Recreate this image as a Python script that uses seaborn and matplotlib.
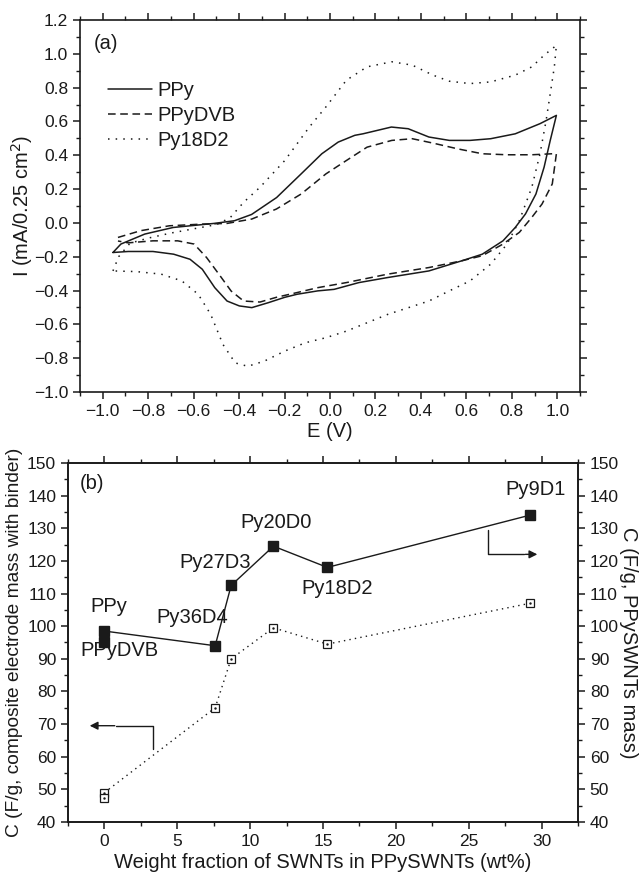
import numpy as np
import pandas as pd
import matplotlib.pyplot as plt
import seaborn as sns
from matplotlib.ticker import MultipleLocator, FuncFormatter

# ---- (a) cyclic voltammograms (closed loops) ----
ppy_E = [-0.955, -0.92, -0.815, -0.69, -0.51, -0.42, -0.345, -0.235, -0.127, -0.036,
         0.036, 0.109, 0.145, 0.27, 0.344, 0.435, 0.525, 0.616, 0.707, 0.815, 0.924, 0.996,
         0.969, 0.942, 0.906, 0.86, 0.815, 0.761, 0.67, 0.58, 0.435, 0.254, 0.127, 0.018,
         -0.054, -0.145, -0.199, -0.272, -0.344, -0.399, -0.453, -0.507, -0.562, -0.616,
         -0.688, -0.779, -0.888, -0.955]
ppy_I = [-0.175, -0.125, -0.066, -0.027, -0.003, 0.013, 0.05, 0.15, 0.29, 0.409,
         0.478, 0.518, 0.527, 0.567, 0.557, 0.508, 0.488, 0.488, 0.498, 0.527, 0.587, 0.636,
         0.488, 0.33, 0.171, 0.053, -0.027, -0.106, -0.185, -0.224, -0.284, -0.323, -0.353, -0.393,
         -0.402, -0.422, -0.44, -0.472, -0.501, -0.491, -0.462, -0.383, -0.274, -0.215,
         -0.185, -0.169, -0.169, -0.175]

dvb_E = [-0.933, -0.833, -0.707, -0.562, -0.453, -0.344, -0.236, -0.127, -0.018, 0.072,
         0.163, 0.272, 0.362, 0.453, 0.562, 0.67, 0.779, 0.888, 0.978, 0.996,
         0.978, 0.933, 0.888, 0.833, 0.761, 0.67, 0.58, 0.435, 0.254, 0.072, -0.054,
         -0.145, -0.236, -0.308, -0.38, -0.435, -0.489, -0.543, -0.598, -0.67, -0.779,
         -0.888, -0.933]
dvb_I = [-0.086, -0.046, -0.017, -0.007, -0.003, 0.023, 0.082, 0.171, 0.29, 0.369,
         0.448, 0.488, 0.498, 0.472, 0.438, 0.409, 0.403, 0.403, 0.409, 0.409,
         0.231, 0.112, 0.033, -0.056, -0.125, -0.194, -0.224, -0.264, -0.303, -0.353, -0.383,
         -0.412, -0.44, -0.468, -0.462, -0.403, -0.303, -0.205, -0.125, -0.106, -0.106,
         -0.118, -0.107]

d18_E = [-0.955, -0.93, -0.88, -0.8, -0.7, -0.6, -0.5, -0.44, -0.38, -0.308, -0.199,
         -0.091, -0.018, 0.072, 0.163, 0.272, 0.362, 0.453, 0.525, 0.616, 0.707, 0.815,
         0.888, 0.942, 0.996, 0.987, 0.969, 0.951, 0.924, 0.888, 0.833, 0.779, 0.707,
         0.616, 0.525, 0.435, 0.254, 0.072, -0.018, -0.109, -0.199, -0.29, -0.362,
         -0.417, -0.471, -0.525, -0.58, -0.652, -0.743, -0.851, -0.955]
d18_I = [-0.284, -0.2, -0.12, -0.09, -0.06, -0.035, -0.01, 0.03, 0.122, 0.211, 0.369,
         0.567, 0.686, 0.844, 0.923, 0.953, 0.933, 0.874, 0.838, 0.824, 0.834, 0.874,
         0.923, 0.992, 1.05, 0.923, 0.765, 0.607, 0.409, 0.211, 0.013, -0.125, -0.244,
         -0.343, -0.402, -0.462, -0.541, -0.64, -0.679, -0.709, -0.758, -0.818, -0.848,
         -0.828, -0.719, -0.541, -0.422, -0.343, -0.303, -0.288, -0.284]

# ---- (b) capacitance vs SWNT fraction ----
samples = ["PPy", "PPyDVB", "Py36D4", "Py27D3", "Py20D0", "Py18D2", "Py9D1"]
wt_frac = [0.0, 0.0, 7.6, 8.7, 11.6, 15.3, 29.2]
c_ppyswnt = [98.5, 95.0, 94.0, 112.5, 124.5, 118.0, 134.0]     # right axis, filled
c_electrode = [49.0, 47.5, 75.0, 90.0, 99.5, 94.5, 107.0]      # left axis, open
label_x = [0.3, 1.0, 6.0, 7.6, 11.8, 16.0, 29.6]
label_y = [106.0, 92.6, 102.6, 119.5, 131.7, 111.5, 141.8]

sns.set_style("ticks")
plt.rcParams['font.family'] = ['Liberation Sans', 'DejaVu Sans']
ink = "#1a1a1a"
plt.rcParams.update({
    "axes.edgecolor": ink, "axes.linewidth": 1.2,
    "xtick.color": ink, "ytick.color": ink,
    "text.color": ink, "axes.labelcolor": ink,
})

one_dec = FuncFormatter(lambda v, p: f"{v:.1f}".replace("-", "\u2212"))

fig = plt.figure(figsize=(6.39, 8.74), dpi=100)
ax1 = fig.add_axes([0.1252, 0.5515, 0.7825, 0.4256])
ax2 = fig.add_axes([0.1064, 0.0595, 0.7981, 0.4108])

cv = [("PPy", ppy_E, ppy_I, "-"), ("PPyDVB", dvb_E, dvb_I, (0, (5, 3))),
      ("Py18D2", d18_E, d18_I, (0, (1, 4)))]
for name, e, i, ls in cv:
    sns.lineplot(x=e, y=i, sort=False, estimator=None, color=ink, linewidth=1.1,
                 linestyle=ls, label=name, ax=ax1)

ax1.set_xlim(-1.1, 1.1)
ax1.set_ylim(-1.0, 1.2)
ax1.xaxis.set_major_locator(MultipleLocator(0.2))
ax1.xaxis.set_minor_locator(MultipleLocator(0.1))
ax1.yaxis.set_major_locator(MultipleLocator(0.2))
ax1.yaxis.set_minor_locator(MultipleLocator(0.1))
ax1.xaxis.set_major_formatter(one_dec)
ax1.yaxis.set_major_formatter(one_dec)
ax1.tick_params(which="both", top=True, right=True, labelsize=12.5)
ax1.tick_params(which="major", length=5, width=1.1)
ax1.tick_params(which="minor", length=3, width=1.0)
ax1.set_xlabel("E (V)", fontsize=14.5, labelpad=2)
ax1.set_ylabel("I (mA/0.25 cm$^2$)", fontsize=14.5)
ax1.yaxis.set_label_coords(-0.09, 0.5)
ax1.text(-1.04, 1.06, "(a)", fontsize=14.5, ha="left", va="center")
ax1.legend(loc="upper left", bbox_to_anchor=(0.055, 0.835), frameon=False, fontsize=14.5,
           handlelength=2.2, handletextpad=0.3, labelspacing=0.3, borderpad=0,
           borderaxespad=0)

# bottom panel
ax3 = ax2.twinx()
df = pd.DataFrame({"sample": samples, "wt": wt_frac, "right": c_ppyswnt, "left": c_electrode})
line_df = df[df["sample"] != "PPyDVB"]
sns.lineplot(data=line_df, x="wt", y="right", sort=False, estimator=None, color=ink,
             linewidth=1.0, ax=ax3)
ax3.plot(df["wt"], df["right"], linestyle="none", marker="s", markersize=7,
         color=ink)
sns.lineplot(data=line_df, x="wt", y="left", sort=False, estimator=None, color=ink,
             linewidth=1.0, linestyle=(0, (1, 3)), ax=ax2)
ax2.plot(df["wt"], df["left"], linestyle="none", marker="s", markersize=5.5,
         markerfacecolor="white", markeredgecolor=ink, markeredgewidth=0.9)
ax2.plot(df["wt"], df["left"], linestyle="none", marker=".", markersize=1.5, color=ink)

for s, lx, ly in zip(samples, label_x, label_y):
    ax2.text(lx, ly, s, fontsize=14.5, ha="center", va="center")
ax2.text(-1.7, 143.8, "(b)", fontsize=14.5, ha="left", va="center")

# axis arrows
ax2.plot([3.35, 3.35, 0.8], [62.5, 69.5, 69.5], color=ink, linewidth=1.0)
ax2.annotate("", xy=(-1.2, 69.5), xytext=(0.9, 69.5),
             arrowprops=dict(arrowstyle="-|>", color=ink, lw=1.0, mutation_scale=12))
ax2.plot([26.3, 26.3, 28.8], [129.6, 122.0, 122.0], color=ink, linewidth=1.0)
ax2.annotate("", xy=(29.9, 122.0), xytext=(28.7, 122.0),
             arrowprops=dict(arrowstyle="-|>", color=ink, lw=1.0, mutation_scale=12))

for ax in (ax2, ax3):
    ax.set_xlim(-2.5, 32.5)
    ax.set_ylim(40, 150)
    ax.yaxis.set_major_locator(MultipleLocator(10))
    ax.yaxis.set_minor_locator(MultipleLocator(5))
ax2.xaxis.set_major_locator(MultipleLocator(5))
ax2.xaxis.set_minor_locator(MultipleLocator(2.5))
ax2.tick_params(which="both", top=True, labelsize=12.5)
ax2.tick_params(which="major", length=5, width=1.1)
ax2.tick_params(which="minor", length=3, width=1.0)
ax3.tick_params(which="major", length=5, width=1.1, labelsize=12.5)
ax3.tick_params(which="minor", length=3, width=1.0)
ax2.set_xlabel("Weight fraction of SWNTs in PPySWNTs (wt%)", fontsize=14.5, labelpad=3)
ax2.set_ylabel("C (F/g, composite electrode mass with binder)", fontsize=13.8)
ax2.yaxis.set_label_coords(-0.088, 0.5)
ax3.set_ylabel("C (F/g, PPySWNTs mass)", fontsize=14.5, rotation=270, va="center")
ax3.yaxis.set_label_coords(1.1, 0.5)
for ax in (ax1, ax2, ax3):
    for sp in ax.spines.values():
        sp.set_visible(True)

fig.savefig("out.png", dpi=100)
